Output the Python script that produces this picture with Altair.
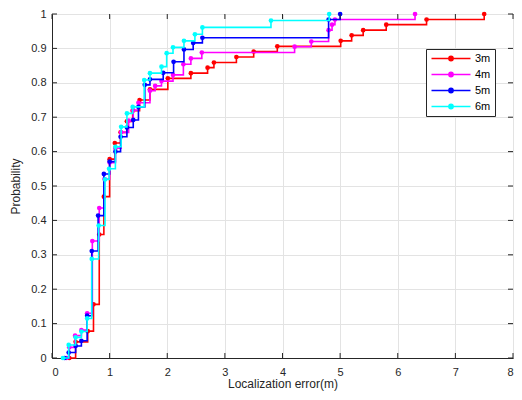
import altair as alt
import pandas as pd

series_names = ["3m", "4m", "5m", "6m"]
series_colors = ["#ff0000", "#ff00ff", "#0000ff", "#00ffff"]

# 3m
x3 = [0.30, 0.41, 0.62, 0.72, 0.82, 0.90, 1.00, 1.09, 1.19, 1.30, 1.40, 1.52, 1.70,
      2.01, 2.41, 2.70, 2.81, 3.20, 3.50, 3.91, 5.01, 5.20, 5.40, 5.80, 6.50, 7.50]
y3 = [0.000, 0.047, 0.078, 0.156, 0.359, 0.469, 0.578, 0.625, 0.656, 0.688, 0.719, 0.750, 0.781,
      0.813, 0.828, 0.844, 0.859, 0.875, 0.891, 0.906, 0.922, 0.938, 0.953, 0.969, 0.984, 1.000]
# 4m
x4 = [0.25, 0.30, 0.40, 0.51, 0.61, 0.70, 0.82, 0.91, 1.00, 1.10, 1.20, 1.33, 1.41, 1.50,
      1.70, 1.79, 1.90, 2.10, 2.28, 2.41, 2.60, 4.21, 4.50, 4.80, 4.86, 4.91, 6.30]
y4 = [0.000, 0.031, 0.065, 0.081, 0.130, 0.340, 0.436, 0.520, 0.568, 0.610, 0.656, 0.690, 0.720, 0.742,
      0.777, 0.791, 0.805, 0.823, 0.854, 0.871, 0.888, 0.905, 0.920, 0.953, 0.969, 0.984, 1.000]
# 5m
x5 = [0.22, 0.29, 0.41, 0.51, 0.61, 0.69, 0.80, 0.90, 1.00, 1.10, 1.19, 1.30, 1.41, 1.50,
      1.61, 1.70, 1.93, 2.11, 2.29, 2.45, 2.61, 4.80, 5.00]
y5 = [0.000, 0.016, 0.035, 0.050, 0.123, 0.311, 0.414, 0.535, 0.571, 0.600, 0.643, 0.670, 0.692, 0.730,
      0.794, 0.810, 0.829, 0.861, 0.897, 0.916, 0.931, 0.984, 1.000]
# 6m
x6 = [0.19, 0.29, 0.41, 0.51, 0.61, 0.69, 0.81, 0.92, 0.99, 1.10, 1.20, 1.30, 1.40, 1.60,
      1.70, 1.90, 1.99, 2.10, 2.29, 2.48, 2.61, 3.80, 4.81]
y6 = [0.000, 0.038, 0.060, 0.077, 0.115, 0.288, 0.385, 0.519, 0.550, 0.614, 0.672, 0.711, 0.730, 0.808,
      0.828, 0.847, 0.886, 0.903, 0.922, 0.941, 0.961, 0.981, 1.000]

x_ticks = [0, 1, 2, 3, 4, 5, 6, 7, 8]
y_ticks = [0, 0.1, 0.2, 0.3, 0.4, 0.5, 0.6, 0.7, 0.8, 0.9, 1]

rows = []
for order, (name, xs, ys) in enumerate(zip(series_names, [x3, x4, x5, x6], [y3, y4, y5, y6])):
    for xv, yv in zip(xs, ys):
        rows.append({"series": name, "order": order, "x": xv, "y": yv})
df = pd.DataFrame(rows)

W, H = 461, 344
FONT = "Liberation Sans"
TXT = "#262626"

xscale = alt.Scale(domain=[0, 8], nice=False, zero=False)
yscale = alt.Scale(domain=[0, 1], nice=False, zero=False)
cscale = alt.Scale(domain=series_names, range=series_colors)

xaxis = alt.Axis(values=x_ticks, title="Localization error(m)", tickSize=0,
                 labelPadding=8, titlePadding=1, format="~g")
yaxis = alt.Axis(values=y_ticks, title="Probability", tickSize=0,
                 labelPadding=6, titlePadding=8, format="~g")

# legend symbol: line with a dot (unit = 4px for symbolSize 64)
legend_path = ("M-1,0H8.75 "
               "M3.35,0A0.525,0.525 0 1,0 4.4,0A0.525,0.525 0 1,0 3.35,0 "
               "M3.625,0A0.25,0.25 0 1,0 4.125,0A0.25,0.25 0 1,0 3.625,0")

base = alt.Chart(df)

lines = base.mark_line(interpolate="step-after", strokeWidth=1.6).encode(
    x=alt.X("x:Q", scale=xscale, axis=xaxis),
    y=alt.Y("y:Q", scale=yscale, axis=yaxis),
    color=alt.Color("series:N", scale=cscale,
                    legend=alt.Legend(orient="none", legendX=374, legendY=35, title=None,
                                      symbolType=legend_path, symbolSize=64,
                                      symbolStrokeWidth=1.6, labelFontSize=11,
                                      labelFont=FONT, labelColor="#000000",
                                      fillColor="white", strokeColor=TXT, padding=4,
                                      labelOffset=34, rowPadding=4)),
    detail="series:N",
    order="x:Q",
)

points = base.mark_point(filled=True, size=22, opacity=1).encode(
    x=alt.X("x:Q", scale=xscale, axis=xaxis),
    y=alt.Y("y:Q", scale=yscale, axis=yaxis),
    color=alt.Color("series:N", scale=cscale, legend=None),
)

layers = []
for name in series_names:
    sub_l = lines.transform_filter(alt.datum.series == name)
    sub_p = points.transform_filter(alt.datum.series == name)
    layers += [sub_l, sub_p]

xt = pd.DataFrame({"x": x_ticks})
yt = pd.DataFrame({"y": y_ticks})
tick_len = 5
xtick_bottom = alt.Chart(xt).mark_rule(color=TXT, strokeWidth=1).encode(
    x=alt.X("x:Q", scale=xscale, axis=xaxis), y=alt.value(H), y2=alt.value(H - tick_len))
xtick_top = alt.Chart(xt).mark_rule(color=TXT, strokeWidth=1).encode(
    x=alt.X("x:Q", scale=xscale, axis=xaxis), y=alt.value(0), y2=alt.value(tick_len))
ytick_left = alt.Chart(yt).mark_rule(color=TXT, strokeWidth=1).encode(
    y=alt.Y("y:Q", scale=yscale, axis=yaxis), x=alt.value(0), x2=alt.value(tick_len))
ytick_right = alt.Chart(yt).mark_rule(color=TXT, strokeWidth=1).encode(
    y=alt.Y("y:Q", scale=yscale, axis=yaxis), x=alt.value(W), x2=alt.value(W - tick_len))

chart = alt.layer(*layers, xtick_bottom, xtick_top, ytick_left, ytick_right).properties(
    width=W, height=H, autosize=alt.AutoSizeParams(type="none"),
    padding={"left": 44, "top": 6, "right": 1, "bottom": 34},
).configure_view(
    stroke=TXT, strokeWidth=1
).configure_axis(
    labelFont=FONT, titleFont=FONT, labelFontSize=11, titleFontSize=12,
    titleFontWeight="normal", labelColor=TXT, titleColor=TXT,
    domainColor=TXT, domainWidth=1, gridColor="#e3e3e3", gridWidth=1,
)

chart.save("out.html", embed_options={"renderer": "svg", "actions": False})
